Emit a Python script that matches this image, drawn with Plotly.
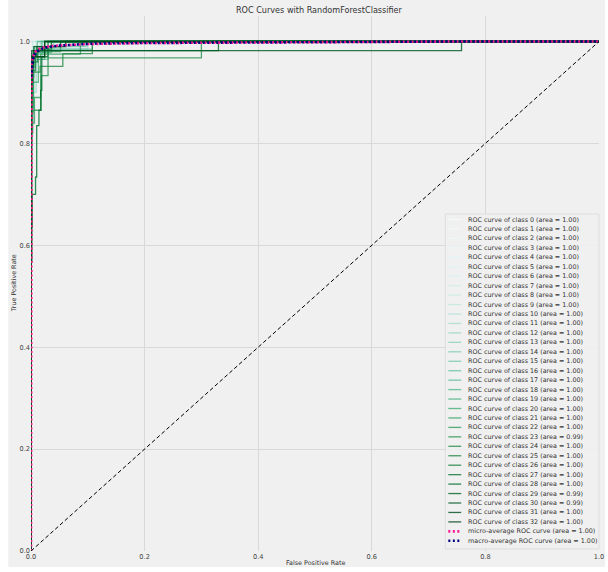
import numpy as np
import plotly.graph_objects as go
from plotly.colors import sample_colorscale

# ---------------------------------------------------------------- data
TITLE = "ROC Curves with RandomForestClassifier"
X_LABEL = "False Positive Rate"
Y_LABEL = "True Positive Rate"

CLASS_IDS = list(range(33))

# Per-class ROC corner points (fpr, tpr), joined as horizontal-then-vertical steps
CLASS_FPR = [
    [0, 0, 0.004, 1],
    [0, 0, 0.002, 0.02, 1],
    [0, 0, 0.006, 1],
    [0, 0, 0.003, 0.045, 1],
    [0, 0, 0.01, 1],
    [0, 0, 0.002, 0.008, 1],
    [0, 0, 0.004, 0.07, 1],
    [0, 0, 0.001, 0.015, 1],
    [0, 0, 0.005, 0.1, 1],
    [0, 0, 0.003, 1],
    [0, 0, 0.002, 0.012, 0.06, 1],
    [0, 0, 0.004, 0.025, 1],
    [0, 0, 0.003, 0.009, 0.1, 1],
    [0, 0, 0.008, 0.04, 1],
    [0, 0, 0.002, 0.005, 0.02, 1],
    [0, 0, 0.006, 0.097, 1],
    [0, 0, 0.003, 0.018, 1],
    [0, 0, 0.004, 0.03, 0.108, 1],
    [0, 0, 0.002, 0.011, 1],
    [0, 0, 0.005, 0.036, 1],
    [0, 0, 0.004, 0.013, 0.024, 1],
    [0, 0, 0.003, 0.007, 0.052, 1],
    [0, 0, 0.002, 0.006, 0.017, 0.087, 1],
    [0, 0, 0.003, 0.018, 0.03, 0.30, 1],
    [0, 0, 0.002, 0.016, 0.056, 0.108, 1],
    [0, 0, 0.002, 0.008, 0.024, 1],
    [0, 0, 0.003, 0.012, 0.036, 1],
    [0, 0, 0.002, 0.01, 0.052, 1],
    [0, 0, 0.002, 0.008, 0.01, 0.014, 0.017, 0.019, 0.03, 1],
    [0, 0, 0.001, 0.004, 0.33, 1],
    [0, 0, 0.001, 0.758, 1],
    [0, 0, 0.001, 0.005, 0.061, 1],
    [0, 0, 0.003, 0.024, 1],
]
CLASS_TPR = [
    [0, 0.94, 1, 1],
    [0, 0.90, 0.98, 1, 1],
    [0, 0.96, 1, 1],
    [0, 0.86, 0.985, 1, 1],
    [0, 0.975, 1, 1],
    [0, 0.83, 0.95, 1, 1],
    [0, 0.92, 0.99, 1, 1],
    [0, 0.88, 0.97, 1, 1],
    [0, 0.95, 0.992, 1, 1],
    [0, 0.97, 1, 1],
    [0, 0.89, 0.96, 0.99, 1, 1],
    [0, 0.93, 0.98, 1, 1],
    [0, 0.84, 0.90, 0.985, 1, 1],
    [0, 0.955, 0.985, 1, 1],
    [0, 0.80, 0.87, 0.97, 1, 1],
    [0, 0.96, 0.99, 1, 1],
    [0, 0.91, 0.975, 1, 1],
    [0, 0.90, 0.965, 0.985, 1, 1],
    [0, 0.85, 0.97, 1, 1],
    [0, 0.93, 0.978, 1, 1],
    [0, 0.86, 0.92, 0.965, 1, 1],
    [0, 0.88, 0.95, 0.98, 1, 1],
    [0, 0.567, 0.84, 0.89, 0.975, 1, 1],
    [0, 0.82, 0.865, 0.933, 0.968, 1, 1],
    [0, 0.90, 0.94, 0.951, 0.976, 1, 1],
    [0, 0.82, 0.943, 0.97, 1, 1],
    [0, 0.87, 0.96, 0.985, 1, 1],
    [0, 0.90, 0.972, 0.99, 1, 1],
    [0, 0.635, 0.70, 0.734, 0.835, 0.865, 0.904, 0.97, 1, 1],
    [0, 0.92, 0.95, 0.982, 1, 1],
    [0, 0.96, 0.982, 1, 1],
    [0, 0.94, 0.97, 0.99, 1, 1],
    [0, 0.92, 0.97, 1, 1],
]

MICRO_FPR = [0, 0, 0.001, 0.003, 0.006, 0.01, 0.02, 0.035, 0.06, 0.1, 0.2, 0.33, 0.76, 1]
MICRO_TPR = [0, 0.93, 0.955, 0.968, 0.977, 0.983, 0.988, 0.991, 0.993, 0.995, 0.997, 0.998, 1.0, 1.0]

MACRO_FPR = [0, 0.002, 0.004, 0.007, 0.012, 0.02, 0.03, 0.05, 0.08, 0.11, 0.2, 0.33, 0.5, 0.76, 1]
MACRO_TPR = [0.93, 0.955, 0.966, 0.975, 0.981, 0.986, 0.989, 0.992, 0.994, 0.996, 0.997, 0.998, 0.999, 1.0, 1.0]

X_TICKS = [0.0, 0.2, 0.4, 0.6, 0.8, 1.0]
Y_TICKS = [0.0, 0.2, 0.4, 0.6, 0.8, 1.0]


# ---------------------------------------------------------------- areas
def step_auc(fpr, tpr):
    f = np.asarray(fpr, float)
    t = np.asarray(tpr, float)
    return float(np.sum(np.diff(f) * t[:-1]))


def line_auc(fpr, tpr):
    return float(np.trapezoid(tpr, fpr))


class_auc = [step_auc(f, t) for f, t in zip(CLASS_FPR, CLASS_TPR)]
micro_auc = line_auc(MICRO_FPR, MICRO_TPR)
macro_auc = line_auc(MACRO_FPR, MACRO_TPR)

# ---------------------------------------------------------------- layout geometry
W, H = 608, 572
ML, MR, MT, MB = 31, 4, 16, 21
PW, PH = W - ML - MR, H - MT - MB
BG = "#f0f0f0"
FONT = "DejaVu Sans"
TXT = "#333333"


def px_x(px):
    return (px - ML) / PW


def px_y(py):
    return (H - MB - py) / PH


colors = sample_colorscale("BuGn", list(np.linspace(0, 1, len(CLASS_IDS))))

fig = go.Figure()

for cid, f, t, col in zip(CLASS_IDS, CLASS_FPR, CLASS_TPR, colors):
    fig.add_trace(go.Scatter(
        x=f, y=t, mode="lines", opacity=0.8,
        line=dict(color=col, width=1.3, shape="hv"),
        showlegend=False, hoverinfo="skip",
    ))

fig.add_trace(go.Scatter(
    x=MICRO_FPR, y=MICRO_TPR, mode="lines",
    line=dict(color="deeppink", width=2.6, dash="2px,2.5px"),
    showlegend=False, hoverinfo="skip",
))
fig.add_trace(go.Scatter(
    x=MACRO_FPR, y=MACRO_TPR, mode="lines",
    line=dict(color="navy", width=2.6, dash="2px,2.5px"),
    showlegend=False, hoverinfo="skip",
))
fig.add_trace(go.Scatter(
    x=[0, 1], y=[0, 1], mode="lines",
    line=dict(color="black", width=1, dash="4px,2.5px"),
    showlegend=False, hoverinfo="skip",
))

# ---------------------------------------------------------------- legend box
shapes = [
    # figure face
    dict(type="rect", xref="paper", yref="paper", layer="below",
         x0=px_x(8), x1=px_x(W + 2), y0=px_y(567), y1=px_y(-2),
         fillcolor=BG, line=dict(width=0)),
    # legend frame
    dict(type="rect", xref="paper", yref="paper", layer="above",
         x0=px_x(449), x1=px_x(604), y0=px_y(549), y1=px_y(214),
         fillcolor="rgba(240,240,240,0.85)", line=dict(color="#dddddd", width=1)),
]
annotations = []

legend_items = []
for cid, col, auc in zip(CLASS_IDS, colors, class_auc):
    legend_items.append((f"ROC curve of class {cid} (area = {auc:.2f})", col, "solid", 1.3, 0.8))
legend_items.append((f"micro-average ROC curve (area = {micro_auc:.2f})", "deeppink", "2px,2.5px", 2.6, 1.0))
legend_items.append((f"macro-average ROC curve (area = {macro_auc:.2f})", "navy", "2px,2.5px", 2.6, 1.0))

ROW0, ROW_STEP = 219.5, 9.45
for i, (label, col, dash, lw, op) in enumerate(legend_items):
    yy = px_y(ROW0 + ROW_STEP * i)
    shapes.append(dict(type="line", xref="paper", yref="paper", layer="above",
                       x0=px_x(452), x1=px_x(465), y0=yy, y1=yy, opacity=op,
                       line=dict(color=col, width=lw, dash=dash)))
    annotations.append(dict(xref="paper", yref="paper", x=px_x(470), y=yy,
                            xanchor="left", yanchor="middle", showarrow=False,
                            text=label, font=dict(family=FONT, size=6.4, color=TXT)))

# ---------------------------------------------------------------- titles
annotations.append(dict(xref="paper", yref="paper", x=px_x(322), y=px_y(10),
                        xanchor="center", yanchor="middle", showarrow=False,
                        text=TITLE, font=dict(family=FONT, size=8.1, color=TXT)))
annotations.append(dict(xref="paper", yref="paper", x=0.5, y=px_y(563),
                        xanchor="center", yanchor="middle", showarrow=False,
                        text=X_LABEL, font=dict(family=FONT, size=6.4, color=TXT)))
annotations.append(dict(xref="paper", yref="paper", x=px_x(14), y=px_y(283),
                        xanchor="center", yanchor="middle", showarrow=False, textangle=-90,
                        text=Y_LABEL, font=dict(family=FONT, size=6.4, color=TXT)))

axis_common = dict(
    showgrid=True, gridcolor="#d9d9d9", gridwidth=1,
    zeroline=False, showline=False, ticks="",
    ticklabeloverflow="allow",
    tickformat=".1f", tickfont=dict(family=FONT, size=6.6, color="#444444"),
)

fig.update_layout(
    width=W, height=H,
    margin=dict(l=ML, r=MR, t=MT, b=MB, pad=0),
    paper_bgcolor="white", plot_bgcolor=BG,
    xaxis=dict(range=[0, 1], tickvals=X_TICKS, **axis_common),
    yaxis=dict(range=[0, 1.05], tickvals=Y_TICKS, **axis_common),
    shapes=shapes, annotations=annotations,
    showlegend=False,
)

fig.write_html("out.html")
